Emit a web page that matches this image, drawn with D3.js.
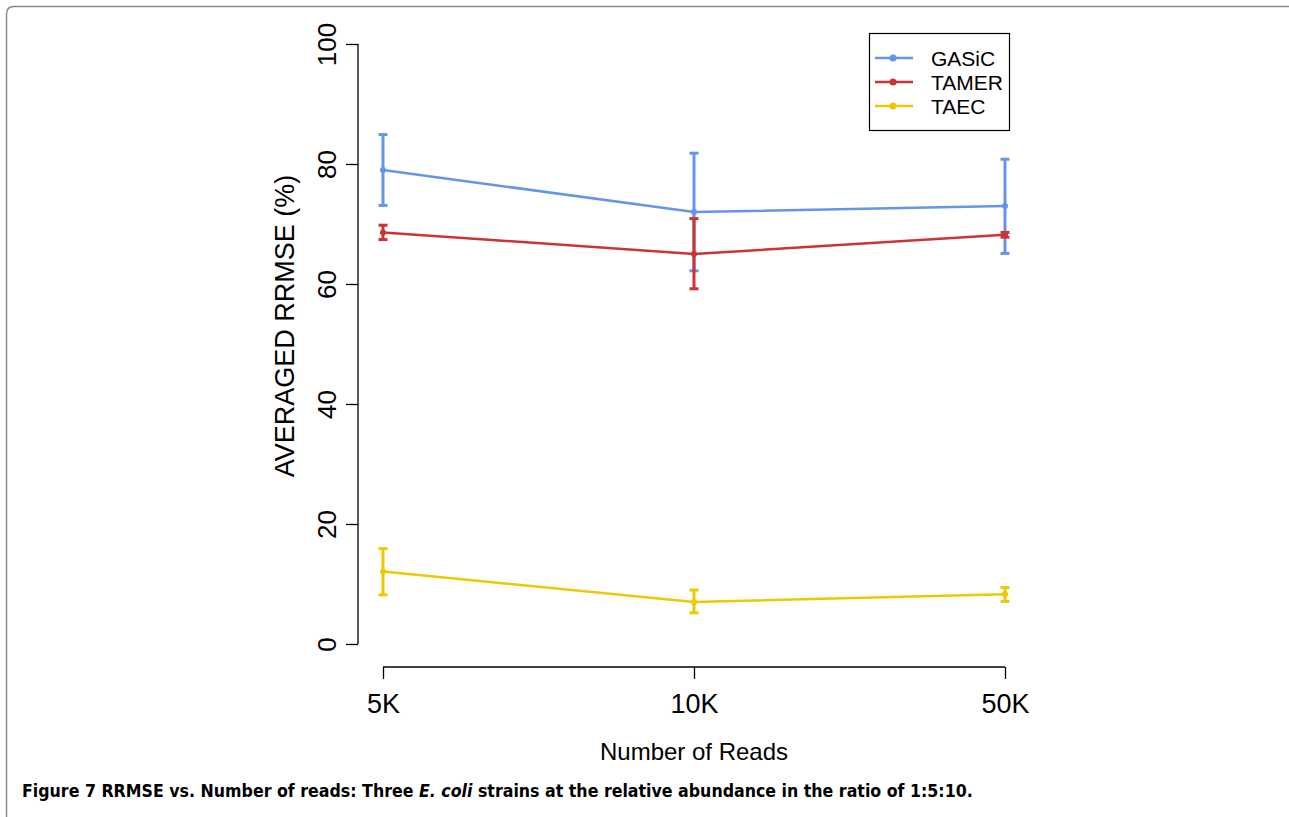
<!DOCTYPE html>
<html>
<head>
<meta charset="utf-8">
<script src="https://cdn.jsdelivr.net/npm/d3@7"></script>
<style>
  body { margin: 0; background: #fff; }
  svg { display: block; }
</style>
</head>
<body>
<svg id="chart" width="1289" height="817"></svg>
<script>
// read counts on the x axis
var categories = ['5K', '10K', '50K'];
var yTicks = [0, 20, 40, 60, 80, 100];

// averaged RRMSE (%) with lower / upper error bar ends
var gasic = [79.0, 72.0, 73.0];
var gasicLo = [73.1, 62.2, 65.1];
var gasicHi = [84.9, 81.8, 80.8];

var tamer = [68.6, 65.0, 68.2];
var tamerLo = [67.4, 59.2, 67.8];
var tamerHi = [69.8, 70.9, 68.6];

var taec = [12.1, 7.0, 8.3];
var taecLo = [8.2, 5.2, 7.1];
var taecHi = [15.9, 9.0, 9.4];

var seriesNames = ['GASiC', 'TAMER', 'TAEC'];
var seriesColors = ['#6495ED', '#CD3333', '#EEC900'];

var series = [
    {name: seriesNames[0], color: seriesColors[0], v: gasic, lo: gasicLo, hi: gasicHi},
    {name: seriesNames[1], color: seriesColors[1], v: tamer, lo: tamerLo, hi: tamerHi},
    {name: seriesNames[2], color: seriesColors[2], v: taec, lo: taecLo, hi: taecHi}
];

var svg = d3.select('#chart');
var font = '"Liberation Sans", Arial, sans-serif';

// figure frame (left + top edge, rounded corner)
svg.append('path')
    .attr('d', 'M6.5,817 L6.5,14 Q6.5,6.5 14,6.5 L1289,6.5')
    .attr('fill', 'none')
    .attr('stroke', '#8a8a8a')
    .attr('stroke-width', 1.5);

var x = d3.scalePoint().domain(categories).range([383, 1005]);
var y = d3.scaleLinear().domain([0, 100]).range([644, 44]);

// y axis
var yAxis = svg.append('g')
    .attr('transform', 'translate(358,0)')
    .call(d3.axisLeft(y).tickValues(yTicks).tickSize(12).tickPadding(0).tickFormat(d3.format('d')));
yAxis.select('.domain').attr('d', 'M0,' + y(0) + 'V' + y(100)).attr('stroke', '#000').attr('stroke-width', 1.3);
yAxis.selectAll('.tick line').attr('stroke', '#000').attr('stroke-width', 1.3);
yAxis.selectAll('.tick text')
    .attr('x', null).attr('dy', null)
    .attr('text-anchor', 'middle')
    .attr('transform', 'translate(-22,0) rotate(-90)')
    .style('font-family', font).style('font-size', '26px').attr('fill', '#000');

// x axis
var xAxis = svg.append('g')
    .attr('transform', 'translate(0,667)')
    .call(d3.axisBottom(x).tickSize(12));
xAxis.select('.domain').attr('d', 'M' + x('5K') + ',0H' + x('50K')).attr('stroke', '#000').attr('stroke-width', 1.3);
xAxis.selectAll('.tick line').attr('stroke', '#000').attr('stroke-width', 1.3);
xAxis.selectAll('.tick text')
    .attr('y', 46).attr('dy', null)
    .style('font-family', font).style('font-size', '27px').attr('fill', '#000');

// axis titles
svg.append('text')
    .attr('x', 694).attr('y', 760)
    .attr('text-anchor', 'middle')
    .style('font-family', font).style('font-size', '24px')
    .text('Number of Reads');
svg.append('text')
    .attr('transform', 'translate(294,326) rotate(-90)')
    .attr('text-anchor', 'middle')
    .style('font-family', font).style('font-size', '27px')
    .text('AVERAGED RRMSE (%)');

// lines, error bars, points
var line = d3.line()
    .x(function(d, i) { return x(categories[i]); })
    .y(function(d) { return y(d); });

series.forEach(function(s) {
    var g = svg.append('g');
    g.append('path')
        .attr('d', line(s.v))
        .attr('fill', 'none')
        .attr('stroke', s.color)
        .attr('stroke-width', 2.5);
    categories.forEach(function(c, i) {
        var cx = x(c);
        g.append('line')
            .attr('x1', cx).attr('x2', cx)
            .attr('y1', y(s.lo[i])).attr('y2', y(s.hi[i]))
            .attr('stroke', s.color).attr('stroke-width', 3);
        [s.lo[i], s.hi[i]].forEach(function(e) {
            g.append('line')
                .attr('x1', cx - 4.5).attr('x2', cx + 4.5)
                .attr('y1', y(e)).attr('y2', y(e))
                .attr('stroke', s.color).attr('stroke-width', 3);
        });
        g.append('circle')
            .attr('cx', cx).attr('cy', y(s.v[i])).attr('r', 3)
            .attr('fill', s.color);
    });
});

// legend
var legend = svg.append('g');
legend.append('rect')
    .attr('x', 869.5).attr('y', 33.5).attr('width', 140).attr('height', 97)
    .attr('fill', '#fff').attr('stroke', '#000').attr('stroke-width', 1.2);
series.forEach(function(s, i) {
    var ly = 58 + i * 24;
    legend.append('line')
        .attr('x1', 875).attr('x2', 913).attr('y1', ly).attr('y2', ly)
        .attr('stroke', s.color).attr('stroke-width', 2.5);
    legend.append('circle')
        .attr('cx', 893).attr('cy', ly).attr('r', 3.5).attr('fill', s.color);
    legend.append('text')
        .attr('x', 931).attr('y', ly + 8)
        .style('font-family', font).style('font-size', '21px')
        .text(s.name);
});

// caption
var cap = svg.append('text')
    .attr('x', 22).attr('y', 797)
    .style('font-family', '"Liberation Sans Narrow", "DejaVu Sans Condensed", "Open Sans", sans-serif')
    .style('font-size', '18px').style('font-weight', 'bold');
cap.append('tspan').text('Figure 7 ');
cap.append('tspan').text('RRMSE vs. Number of reads: Three ');
cap.append('tspan').style('font-style', 'italic').text('E. coli');
cap.append('tspan').text(' strains at the relative abundance in the ratio of 1:5:10.');
var w = cap.node().getComputedTextLength();
var sx = 951 / w;
cap.attr('transform', 'translate(22,0) scale(' + sx + ',1) translate(-22,0)');
</script>
</body>
</html>
